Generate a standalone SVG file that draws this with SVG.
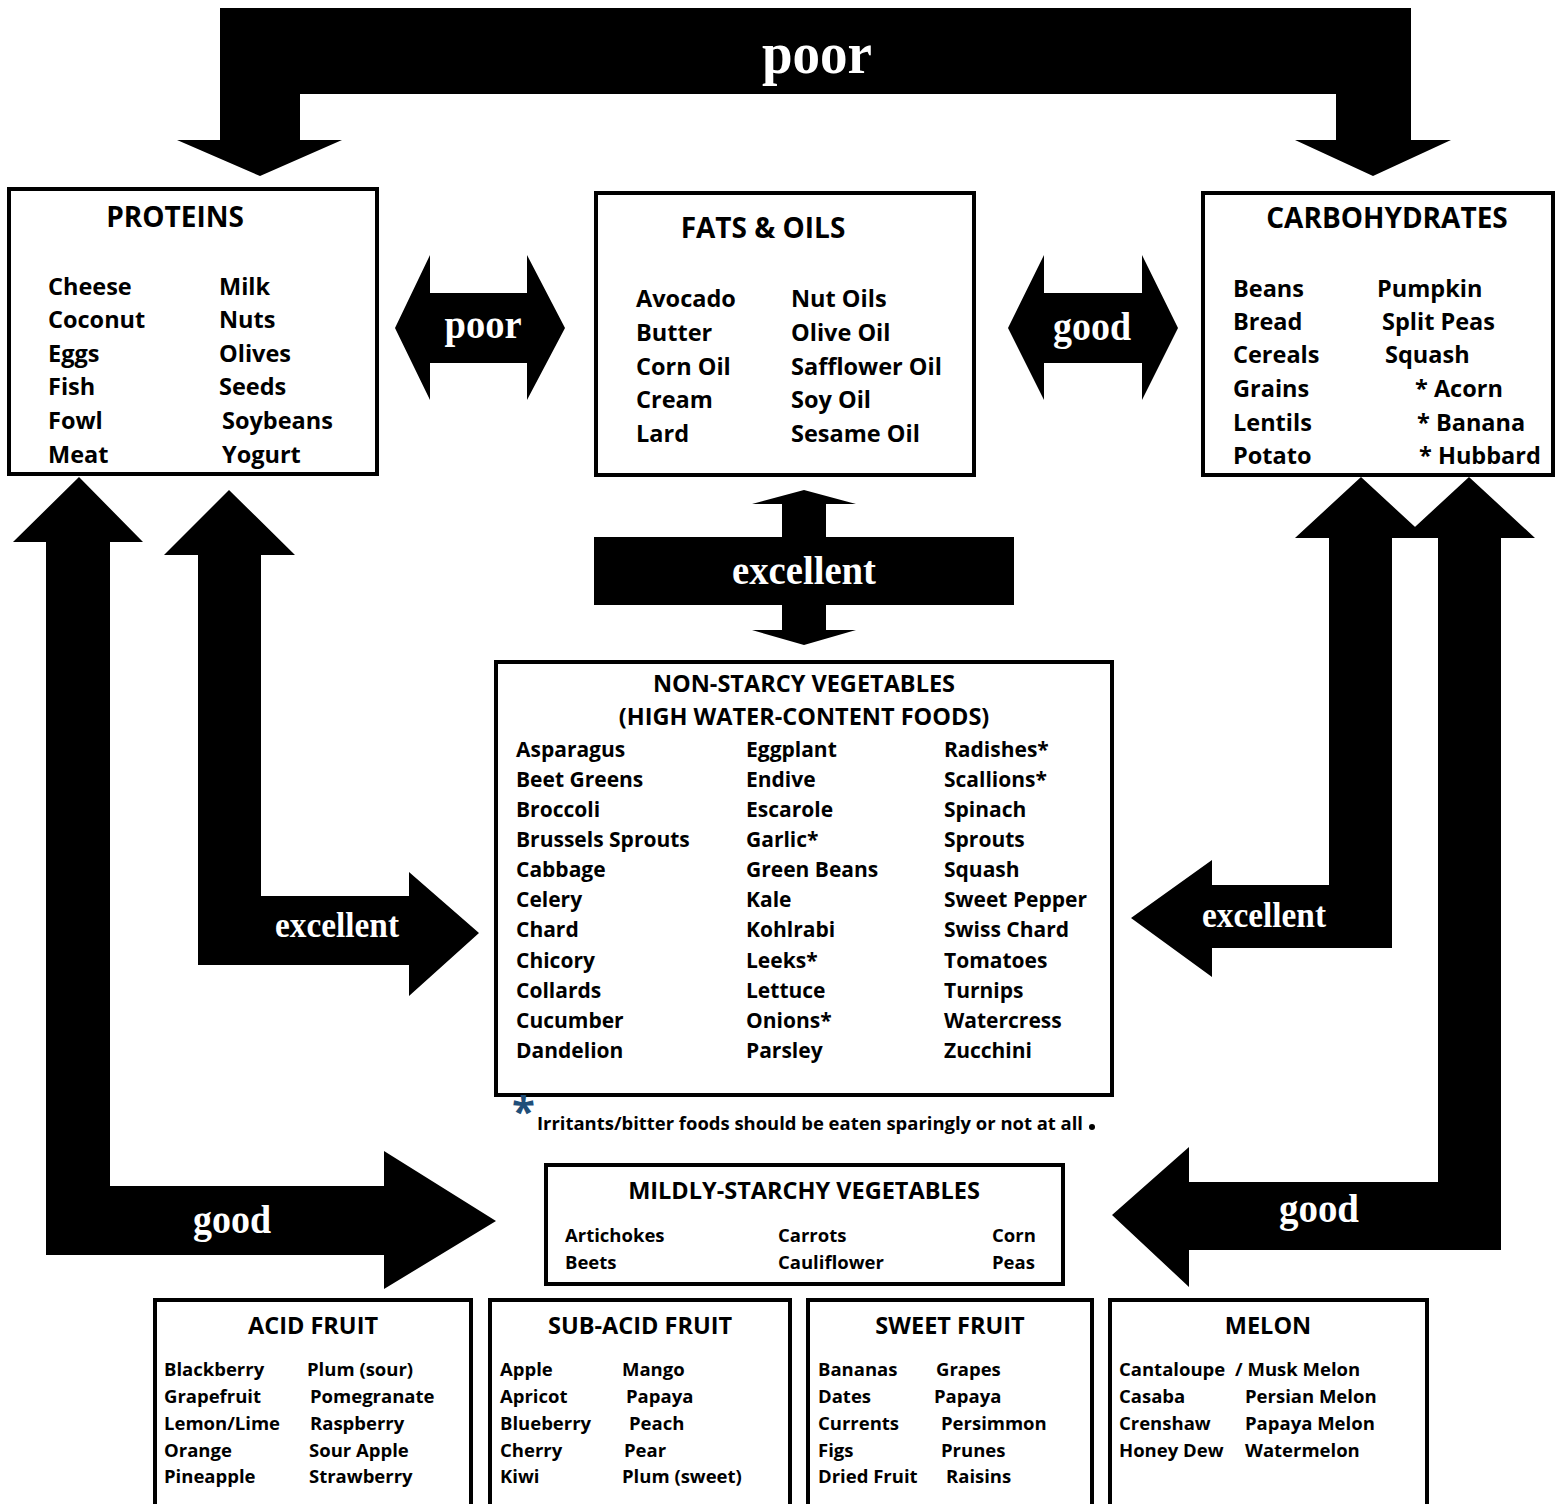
<svg xmlns="http://www.w3.org/2000/svg" width="1560" height="1504" viewBox="0 0 1560 1504">
<style>
.box{fill:#fff;stroke:#000;stroke-width:4}
.arr{fill:#000;stroke:none}
.t{font-family:"Open Sans","Liberation Sans",sans-serif;font-weight:bold;fill:#000}
.h1{font-size:28px;text-anchor:middle}
.h2{font-size:23.5px;text-anchor:middle}
.i1{font-size:23.5px}
.i2{font-size:21px}
.i3{font-size:18.5px}
.lbl{font-family:"Liberation Serif","Times New Roman",serif;font-weight:bold;fill:#fff;text-anchor:middle}
</style>
<rect width="1560" height="1504" fill="#fff"/>
<g id="connectors">
  <path class="arr" d="M220,8 H1411 V140 H1451 L1373,176 L1295,140 H1336 V94 H300 V140 H342 L260,176 L177,140 H220 Z"/>
  <text class="lbl" x="817" y="73" font-size="60" textLength="110" lengthAdjust="spacingAndGlyphs">poor</text>
  <path class="arr" d="M395,328 L430,255 V293 H527 V255 L565,328 L527,400 V363 H430 V400 Z"/>
  <text class="lbl" x="483" y="338" font-size="40" textLength="77" lengthAdjust="spacingAndGlyphs">poor</text>
  <path class="arr" d="M1008,328 L1044,255 V293 H1142 V255 L1178,328 L1142,400 V363 H1044 V400 Z"/>
  <text class="lbl" x="1092" y="340" font-size="40" textLength="78" lengthAdjust="spacingAndGlyphs">good</text>
  <path class="arr" d="M804,490 L856,504 H826 V537 H1014 V605 H826 V630 H856 L804,645 L752,630 H782 V605 H594 V537 H782 V504 H752 Z"/>
  <text class="lbl" x="804" y="584" font-size="40" textLength="144" lengthAdjust="spacingAndGlyphs">excellent</text>
  <path class="arr" d="M79,477 L143,542 H110 V1186 H384 V1151 L496,1221 L384,1289 V1255 H46 V542 H13 Z"/>
  <text class="lbl" x="232" y="1233" font-size="40" textLength="78" lengthAdjust="spacingAndGlyphs">good</text>
  <path class="arr" d="M229,490 L295,555 H261 V896 H409 V872 L479,933 L409,996 V965 H198 V555 H164 Z"/>
  <text class="lbl" x="337" y="937" font-size="36" textLength="124" lengthAdjust="spacingAndGlyphs">excellent</text>
  <path class="arr" d="M1361,477 L1427,538 H1392 V948 H1212 V977 L1131,918 L1212,860 V885 H1329 V538 H1295 Z"/>
  <text class="lbl" x="1264" y="927" font-size="36" textLength="124" lengthAdjust="spacingAndGlyphs">excellent</text>
  <path class="arr" d="M1469,477 L1535,538 H1501 V1250 H1189 V1287 L1112,1215 L1189,1147 V1182 H1438 V538 H1403 Z"/>
  <text class="lbl" x="1319" y="1222" font-size="40" textLength="80" lengthAdjust="spacingAndGlyphs">good</text>
</g>
<g id="proteins">
  <rect class="box" x="9" y="189" width="368" height="285"/>
  <text class="t h1" x="175" y="227">PROTEINS</text>
  <g class="t i1">
    <text x="48" y="295">Cheese</text><text x="219" y="295">Milk</text>
    <text x="48" y="328">Coconut</text><text x="219" y="328">Nuts</text>
    <text x="48" y="362">Eggs</text><text x="219" y="362">Olives</text>
    <text x="48" y="395">Fish</text><text x="219" y="395">Seeds</text>
    <text x="48" y="429">Fowl</text><text x="222" y="429">Soybeans</text>
    <text x="48" y="463">Meat</text><text x="222" y="463">Yogurt</text>
  </g>
</g>
<g id="fats">
  <rect class="box" x="596" y="193" width="378" height="282"/>
  <text class="t h1" x="763" y="238">FATS &amp; OILS</text>
  <g class="t i1">
    <text x="636" y="307">Avocado</text><text x="791" y="307">Nut Oils</text>
    <text x="636" y="341">Butter</text><text x="791" y="341">Olive Oil</text>
    <text x="636" y="375">Corn Oil</text><text x="791" y="375">Safflower Oil</text>
    <text x="636" y="408">Cream</text><text x="791" y="408">Soy Oil</text>
    <text x="636" y="442">Lard</text><text x="791" y="442">Sesame Oil</text>
  </g>
</g>
<g id="carbohydrates">
  <rect class="box" x="1203" y="193" width="350" height="282"/>
  <text class="t h1" x="1387" y="228">CARBOHYDRATES</text>
  <g class="t i1">
    <text x="1233" y="297">Beans</text><text x="1377" y="297">Pumpkin</text>
    <text x="1233" y="330">Bread</text><text x="1382" y="330">Split Peas</text>
    <text x="1233" y="363">Cereals</text><text x="1385" y="363">Squash</text>
    <text x="1233" y="397">Grains</text><text x="1415" y="397">* Acorn</text>
    <text x="1233" y="431">Lentils</text><text x="1417" y="431">* Banana</text>
    <text x="1233" y="464">Potato</text><text x="1419" y="464">* Hubbard</text>
  </g>
</g>
<g id="non-starchy">
  <rect class="box" x="496" y="662" width="616" height="433"/>
  <text class="t h2" x="804" y="692">NON-STARCY VEGETABLES</text>
  <text class="t h2" x="804" y="725">(HIGH WATER-CONTENT FOODS)</text>
  <g class="t i2">
    <text x="516" y="757">Asparagus</text><text x="746" y="757">Eggplant</text><text x="944" y="757">Radishes*</text>
    <text x="516" y="787">Beet Greens</text><text x="746" y="787">Endive</text><text x="944" y="787">Scallions*</text>
    <text x="516" y="817">Broccoli</text><text x="746" y="817">Escarole</text><text x="944" y="817">Spinach</text>
    <text x="516" y="847">Brussels Sprouts</text><text x="746" y="847">Garlic*</text><text x="944" y="847">Sprouts</text>
    <text x="516" y="877">Cabbage</text><text x="746" y="877">Green Beans</text><text x="944" y="877">Squash</text>
    <text x="516" y="907">Celery</text><text x="746" y="907">Kale</text><text x="944" y="907">Sweet Pepper</text>
    <text x="516" y="937">Chard</text><text x="746" y="937">Kohlrabi</text><text x="944" y="937">Swiss Chard</text>
    <text x="516" y="968">Chicory</text><text x="746" y="968">Leeks*</text><text x="944" y="968">Tomatoes</text>
    <text x="516" y="998">Collards</text><text x="746" y="998">Lettuce</text><text x="944" y="998">Turnips</text>
    <text x="516" y="1028">Cucumber</text><text x="746" y="1028">Onions*</text><text x="944" y="1028">Watercress</text>
    <text x="516" y="1058">Dandelion</text><text x="746" y="1058">Parsley</text><text x="944" y="1058">Zucchini</text>
  </g>
</g>
<g id="footnote">
  <text x="512" y="1126" font-family="'Open Sans','Liberation Sans',sans-serif" font-weight="bold" font-size="42" fill="#1F4E79">*</text>
  <text class="t" x="537" y="1130" font-size="18" textLength="546" lengthAdjust="spacingAndGlyphs">Irritants/bitter foods should be eaten sparingly or not at all</text>
  <circle cx="1092" cy="1127" r="3" fill="#000"/>
</g>
<g id="mildly-starchy">
  <rect class="box" x="546" y="1165" width="517" height="119"/>
  <text class="t h2" x="804" y="1199">MILDLY-STARCHY VEGETABLES</text>
  <g class="t i3">
    <text x="565" y="1242">Artichokes</text><text x="778" y="1242">Carrots</text><text x="992" y="1242">Corn</text>
    <text x="565" y="1269">Beets</text><text x="778" y="1269">Cauliflower</text><text x="992" y="1269">Peas</text>
  </g>
</g>
<g id="acid-fruit">
  <rect class="box" x="155" y="1300" width="316" height="220"/>
  <text class="t h2" x="313" y="1334">ACID FRUIT</text>
  <g class="t i3">
    <text x="164" y="1376">Blackberry</text><text x="307" y="1376">Plum (sour)</text>
    <text x="164" y="1403">Grapefruit</text><text x="310" y="1403">Pomegranate</text>
    <text x="164" y="1430">Lemon/Lime</text><text x="310" y="1430">Raspberry</text>
    <text x="164" y="1457">Orange</text><text x="309" y="1457">Sour Apple</text>
    <text x="164" y="1483">Pineapple</text><text x="309" y="1483">Strawberry</text>
  </g>
</g>
<g id="sub-acid-fruit">
  <rect class="box" x="490" y="1300" width="300" height="220"/>
  <text class="t h2" x="640" y="1334">SUB-ACID FRUIT</text>
  <g class="t i3">
    <text x="500" y="1376">Apple</text><text x="622" y="1376">Mango</text>
    <text x="500" y="1403">Apricot</text><text x="626" y="1403">Papaya</text>
    <text x="500" y="1430">Blueberry</text><text x="629" y="1430">Peach</text>
    <text x="500" y="1457">Cherry</text><text x="624" y="1457">Pear</text>
    <text x="500" y="1483">Kiwi</text><text x="622" y="1483">Plum (sweet)</text>
  </g>
</g>
<g id="sweet-fruit">
  <rect class="box" x="808" y="1300" width="284" height="220"/>
  <text class="t h2" x="950" y="1334">SWEET FRUIT</text>
  <g class="t i3">
    <text x="818" y="1376">Bananas</text><text x="936" y="1376">Grapes</text>
    <text x="818" y="1403">Dates</text><text x="934" y="1403">Papaya</text>
    <text x="818" y="1430">Currents</text><text x="941" y="1430">Persimmon</text>
    <text x="818" y="1457">Figs</text><text x="941" y="1457">Prunes</text>
    <text x="818" y="1483">Dried Fruit</text><text x="946" y="1483">Raisins</text>
  </g>
</g>
<g id="melon">
  <rect class="box" x="1110" y="1300" width="317" height="220"/>
  <text class="t h2" x="1268" y="1334">MELON</text>
  <g class="t i3">
    <text x="1119" y="1376">Cantaloupe</text><text x="1235" y="1376">/ Musk Melon</text>
    <text x="1119" y="1403">Casaba</text><text x="1245" y="1403">Persian Melon</text>
    <text x="1119" y="1430">Crenshaw</text><text x="1245" y="1430">Papaya Melon</text>
    <text x="1119" y="1457">Honey Dew</text><text x="1245" y="1457">Watermelon</text>
  </g>
</g>
</svg>
